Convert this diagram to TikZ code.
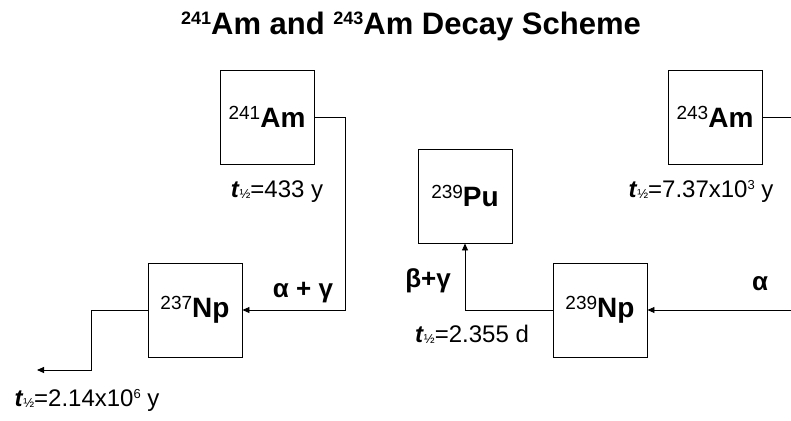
\documentclass[tikz,border=0pt]{standalone}
\usepackage{fontspec}
\setmainfont{Liberation Sans}
\usepackage{tikz}
\usetikzlibrary{positioning}
\usetikzlibrary{calc,arrows.meta}

% nuclide with mass number, half-life symbol, small superscript
\newcommand{\iso}[2]{\raisebox{8pt}{\fontsize{19}{19}\selectfont #1}{\fontsize{28}{28}\selectfont\bfseries #2}}
\newcommand{\thalf}{\textbf{\textit{t}}\raisebox{-1.5pt}{\fontsize{13}{13}\selectfont ½}}
\newcommand{\sups}[1]{\raisebox{8pt}{\fontsize{13}{13}\selectfont #1}}

\begin{document}
\begin{tikzpicture}[x=1pt,y=-1pt,
    nuclide/.style={draw, line width=0.9pt, minimum size=94pt, inner sep=0pt},
    decay/.style={line width=0.9pt, -{Triangle[length=7pt,width=6pt]}},
    link/.style={line width=0.9pt},
    halflife/.style={font=\fontsize{24}{24}\selectfont, inner sep=0pt, anchor=base},
    ray/.style={font=\fontsize{26}{26}\selectfont\bfseries, inner sep=0pt, anchor=base}]
    \useasboundingbox (0,0) rectangle (791,420);

    % Title
    \node[font=\fontsize{31}{31}\selectfont\bfseries, anchor=base] (title) at (411,35)
        {\raisebox{10pt}{\fontsize{18}{18}\selectfont 241}Am and \raisebox{10pt}{\fontsize{18}{18}\selectfont 243}Am Decay Scheme};

    % Draw nuclides
    \node[nuclide] (am241) at (267,117) {\iso{241}{Am}};
    \node[nuclide] (np237) at (195,310) {\iso{237}{Np}};
    \node[nuclide] (pu239) at (465,196) {\iso{239}{Pu}};
    \node[nuclide] (np239) at (600,310) {\iso{239}{Np}};
    \node[nuclide] (am243) at (715,117) {\iso{243}{Am}};

    % Half-lives
    \node[halflife] (hl241) at (277,197) {\thalf=433 y};
    \node[halflife] (hl237) at (87,406) {\thalf=2.14x10\sups{6} y};
    \node[halflife] (hl239) at (472,342) {\thalf=2.355 d};
    \node[halflife] (hl243) at (701,197) {\thalf=7.37x10\sups{3} y};

    % Decay labels
    \node[ray] (ag241) at (303,297) {α + γ};
    \node[ray] (bg239) at (428,287) {β+γ};
    \node[ray] (a243) at (760,290) {α};

    % Draw decays
    \coordinate (np237out) at (37,370);
    \coordinate (am243out) at (791,117);
    \coordinate (np239in) at (791,310);
    \draw[decay] (am241.east) -- ++(31,0) |- (np237.east);
    \draw[decay] (np237.west) -- ++(-56,0) |- (np237out);
    \draw[link] (am243.east) -- (am243out);
    \draw[decay] (np239in) -- (np239.east);
    \draw[decay] (np239.west) -| (pu239.south);
\end{tikzpicture}
\end{document}
